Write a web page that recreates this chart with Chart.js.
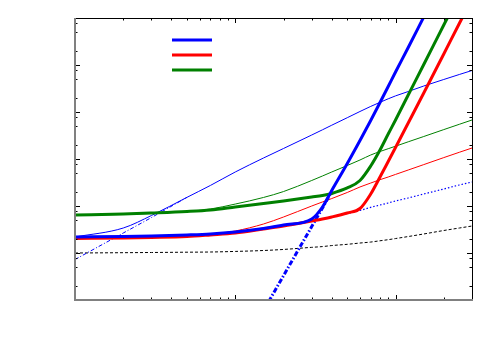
<!DOCTYPE html>
<html>
<head>
<meta charset="utf-8">
<script src="https://cdn.jsdelivr.net/npm/chart.js@4"></script>
<style>
  html, body { margin: 0; padding: 0; background: #fff; }
  #wrap { width: 500px; height: 350px; }
</style>
</head>
<body>
<div id="wrap"><canvas id="chart" width="500" height="350"></canvas></div>
<script>
// shared x samples (log axis, 1 .. 300)
const xValues = [1, 2, 3, 5, 7, 10, 15, 20, 30, 35, 40, 50, 60, 70, 80, 90, 100, 120, 150, 200, 250, 300];

// thick curves (legend entries)
const blueThick  = [21.9, 22.4, 23.0, 24.2, 25.4, 28.0, 33.2, 39.4, 52.9, 95.2, 213.6, 802, 2475, 6590, 15920, 34900, 71000, 235600, 1050000, 7100000, null, null];
const redThick   = [20.3, 20.9, 21.4, 22.4, 24.2, 26.6, 32.4, 37.5, 48.0, 52.9, 58.3, 71.0, 88.5, 180, 414, 885, 1757, 5834, 25350, 171400, 763800, 2540000];
const greenThick = [64.3, 67.6, 71.0, 76.4, 82.2, 95.2, 113, 128, 155, 167, 185, 242, 349, 710, 1553, 3404, 6761, 23000, 102500, 709600, 3160000, null];

// thin curves
const blueThin   = [21.9, 34.0, 62.8, 153, 274, 529, 1050, 1673, 3240, 4180, 5236, 7565, 10250, 13150, 16070, 19090, 22030, 27290, 35730, 49150, 62800, 76350];
const redThin    = [20.9, 21.2, 21.7, 23.0, 24.8, 29.4, 41.4, 58.3, 100, 122, 144, 194, 254, 308, 363, 414, 470, 583, 760, 1071, 1389, 1714];
const greenThin  = [64.3, 65.9, 69.2, 76.4, 86.3, 110, 152, 203, 349, 435, 529, 728, 952, 1217, 1444, 1656, 1871, 2322, 3010, 4222, 5474, 6760];

// asymptotes
const blueSteep  = [null, null, null, null, null, null, 0.594, 3.29, 36.6, 90.6, 208, null, null, null, null, null, null, null, null, null, null, null];
const blueLow    = [7.27, 26.6, 56.9, 153, null, null, null, null, null, null, null, null, null, null, null, null, null, null, null, null, null, null];
const blueDotted = [20.3, 20.9, 21.4, 22.4, 24.2, 26.6, 32.4, 37.5, 48.0, 52.9, 58.3, 69.2, 80.2, 93.8, 105, 116, 128, 148, 180, 230, 280, 324];
const blackDash  = [10.0, 10.15, 10.25, 10.4, 10.5, 10.8, 11.3, 11.9, 13.2, 13.7, 14.4, 15.3, 16.3, 17.1, 18.2, 19.2, 20.3, 22.4, 25.4, 30.1, 34.0, 37.5];

const xDecades = [1, 10, 100];
const yDecades = [1, 10, 100, 1e3, 1e4, 1e5];
const yMinor = [2, 5, 8];

function pairs(ys) {
  return xValues.map((x, i) => ({ x: x, y: ys[i] }));
}

function line(data, color, width, dash) {
  return {
    data: pairs(data),
    borderColor: color,
    borderWidth: width,
    borderDash: dash || [],
    pointRadius: 0,
    fill: false,
    spanGaps: false,
    tension: 0.4,
    cubicInterpolationMode: 'monotone',
    clip: 0
  };
}

// first dataset is painted on top
const datasets = [
  line(blueThick, '#0000ff', 3),
  line(redThick, '#ff0000', 3),
  line(greenThick, '#008000', 3),
  line(blueSteep, '#0000ff', 3, [5, 2, 1.5, 2]),
  line(blueThin, '#0000ff', 1),
  line(redThin, '#ff0000', 1),
  line(greenThin, '#008000', 1),
  line(blueLow, '#0000ff', 1, [4, 2, 1, 2]),
  line(blueDotted, '#0000ff', 1.2, [1.5, 2]),
  line(blackDash, '#000000', 1, [3, 2])
];

// box, inward ticks and the short legend lines
const frame = {
  id: 'frame',
  afterDatasetsDraw(chart) {
    const { ctx, chartArea: a, scales } = chart;
    const xs = scales.x, ys = scales.y;
    ctx.save();
    ctx.setLineDash([]);
    ctx.strokeStyle = '#000';
    ctx.lineWidth = 1;
    ctx.beginPath();
    xDecades.forEach(d => {
      for (let k = 1; k <= 10; k++) {
        const v = d * k;
        if (v > 300) break;
        const px = Math.round(xs.getPixelForValue(v)) + 0.5;
        const len = (k === 1 || k === 10) ? 5 : 2.5;
        ctx.moveTo(px, a.bottom); ctx.lineTo(px, a.bottom - len);
        ctx.moveTo(px, a.top); ctx.lineTo(px, a.top + len);
      }
    });
    yDecades.forEach(d => {
      [1].concat(yMinor).forEach(k => {
        const py = Math.round(ys.getPixelForValue(d * k)) + 0.5;
        const len = k === 1 ? 5 : 2.5;
        ctx.moveTo(a.left, py); ctx.lineTo(a.left + len, py);
        ctx.moveTo(a.right, py); ctx.lineTo(a.right - len, py);
      });
    });
    ctx.stroke();

    // top and right edges
    ctx.beginPath();
    ctx.moveTo(a.left, a.top + 0.5); ctx.lineTo(a.right + 0.5, a.top + 0.5);
    ctx.lineTo(a.right + 0.5, a.bottom);
    ctx.stroke();
    // left and bottom edges
    ctx.strokeStyle = '#808080';
    ctx.lineWidth = 2;
    ctx.beginPath();
    ctx.moveTo(a.left, a.top); ctx.lineTo(a.left, a.bottom);
    ctx.lineTo(a.right + 1, a.bottom);
    ctx.stroke();

    // legend samples, no labels
    for (let i = 0; i < 3; i++) {
      const ds = chart.data.datasets[i];
      const ly = 40 + 15 * i;
      ctx.strokeStyle = ds.borderColor;
      ctx.lineWidth = 3;
      ctx.beginPath();
      ctx.moveTo(172, ly); ctx.lineTo(212, ly);
      ctx.stroke();
    }
    ctx.restore();
  }
};

new Chart(document.getElementById('chart'), {
  type: 'line',
  data: { datasets: datasets },
  options: {
    responsive: false,
    animation: false,
    layout: { padding: { left: 75, right: 28, top: 18, bottom: 50 } },
    plugins: { legend: { display: false }, tooltip: { enabled: false } },
    scales: {
      x: { type: 'logarithmic', min: 1, max: 300, display: false },
      y: { type: 'logarithmic', min: 1, max: 1e6, display: false }
    }
  },
  plugins: [frame]
});
</script>
</body>
</html>
